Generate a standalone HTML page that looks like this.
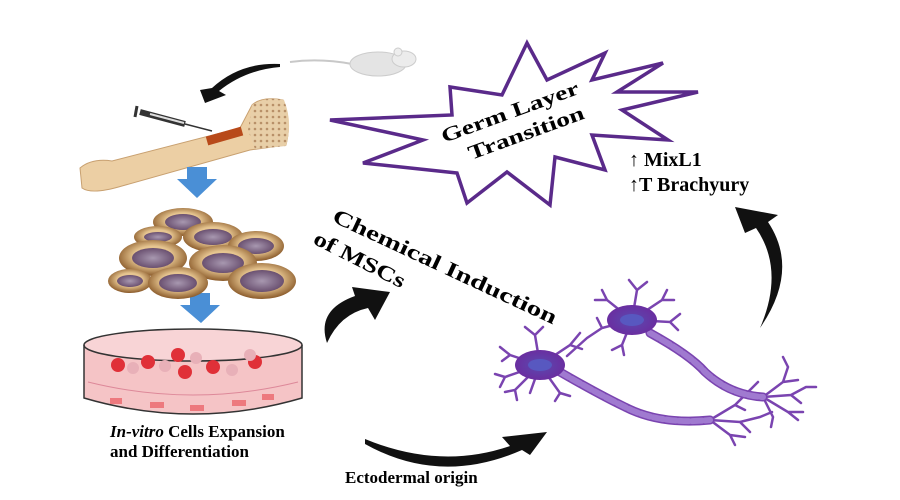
<!DOCTYPE html>
<html><head><style>body{margin:0;background:#fff}svg{display:block}</style></head>
<body>
<svg width="900" height="500" viewBox="0 0 900 500" xmlns="http://www.w3.org/2000/svg" font-family="Liberation Serif, serif" font-weight="bold">
<defs>
<radialGradient id="cell" cx="50%" cy="45%" r="55%"><stop offset="0.5" stop-color="#e6c590"/><stop offset="1" stop-color="#8a5a2a"/></radialGradient>
<radialGradient id="nuc" cx="50%" cy="50%" r="50%"><stop offset="0" stop-color="#a898b0"/><stop offset="1" stop-color="#6a5070"/></radialGradient>
<radialGradient id="soma" cx="50%" cy="50%" r="50%"><stop offset="0" stop-color="#5a4ab0"/><stop offset="1" stop-color="#6a2ea0"/></radialGradient>
<pattern id="spong" width="6" height="6" patternUnits="userSpaceOnUse"><rect width="6" height="6" fill="#e8cfa8"/><circle cx="3" cy="3" r="1.3" fill="#b89068"/></pattern>
</defs>
<!-- mouse -->
<path d="M290,62 Q320,58 352,64" stroke="#c8c8c8" stroke-width="2" fill="none"/>
<ellipse cx="378" cy="64" rx="28" ry="12" fill="#e4e4e4" stroke="#ccc"/>
<ellipse cx="404" cy="59" rx="12" ry="8" fill="#ececec" stroke="#ccc"/>
<circle cx="398" cy="52" r="4" fill="#eee" stroke="#ccc"/>
<!-- arrow mouse to bone -->
<path d="M280,64 Q240,62 212,88 L200,90 L205,103 L226,95 L219,91 Q245,70 280,67 Z" fill="#111"/>
<!-- syringe -->
<line x1="140" y1="112" x2="185" y2="124" stroke="#333" stroke-width="6"/>
<line x1="150" y1="114" x2="184" y2="123" stroke="#ddd" stroke-width="2"/>
<line x1="185" y1="124" x2="212" y2="131" stroke="#333" stroke-width="1.5"/>
<line x1="137" y1="106" x2="135" y2="117" stroke="#333" stroke-width="3"/>
<!-- bone -->
<path d="M80,168 Q92,158 112,161 L240,128 L252,105 Q262,96 283,100 Q292,122 286,145 L250,150 L122,186 Q92,195 82,188 Z" fill="#eccfa4" stroke="#c8a070"/>
<path d="M252,105 Q265,96 284,100 Q293,122 286,146 L255,149 L248,130 Z" fill="url(#spong)"/>
<path d="M207,141 L242,131" stroke="#b84a1a" stroke-width="9"/>
<!-- blue arrows -->
<path d="M187,167 h20 v12 h10 l-20,19 l-20,-19 h10 z" fill="#4a8fd6"/>
<path d="M190,293 h20 v12 h10 l-19,18 l-21,-18 h10 z" fill="#4a8fd6"/>
<!-- cells -->
<g>
<ellipse cx="183" cy="222" rx="30" ry="14" fill="url(#cell)"/><ellipse cx="183" cy="222" rx="18" ry="8" fill="url(#nuc)"/>
<ellipse cx="158" cy="237" rx="24" ry="11" fill="url(#cell)"/><ellipse cx="158" cy="237" rx="14" ry="5" fill="url(#nuc)"/>
<ellipse cx="213" cy="237" rx="30" ry="15" fill="url(#cell)"/><ellipse cx="213" cy="237" rx="19" ry="8" fill="url(#nuc)"/>
<ellipse cx="256" cy="246" rx="28" ry="15" fill="url(#cell)"/><ellipse cx="256" cy="246" rx="18" ry="8" fill="url(#nuc)"/>
<ellipse cx="153" cy="258" rx="34" ry="18" fill="url(#cell)"/><ellipse cx="153" cy="258" rx="21" ry="10" fill="url(#nuc)"/>
<ellipse cx="223" cy="263" rx="34" ry="18" fill="url(#cell)"/><ellipse cx="223" cy="263" rx="21" ry="10" fill="url(#nuc)"/>
<ellipse cx="130" cy="281" rx="22" ry="12" fill="url(#cell)"/><ellipse cx="130" cy="281" rx="13" ry="6" fill="url(#nuc)"/>
<ellipse cx="178" cy="283" rx="30" ry="16" fill="url(#cell)"/><ellipse cx="178" cy="283" rx="19" ry="9" fill="url(#nuc)"/>
<ellipse cx="262" cy="281" rx="34" ry="18" fill="url(#cell)"/><ellipse cx="262" cy="281" rx="22" ry="11" fill="url(#nuc)"/>
</g>
<!-- petri dish -->
<path d="M84,345 L84,398 Q193,430 302,398 L302,345" fill="#f5c4c6" stroke="#333" stroke-width="1.5"/>
<ellipse cx="193" cy="345" rx="109" ry="16" fill="#f8d4d6" stroke="#333" stroke-width="1.5"/>
<path d="M88,382 Q193,408 298,382" stroke="#d89" fill="none"/>
<g fill="#e03038"><circle cx="118" cy="365" r="7"/><circle cx="148" cy="362" r="7"/><circle cx="178" cy="355" r="7"/><circle cx="185" cy="372" r="7"/><circle cx="213" cy="367" r="7"/><circle cx="255" cy="362" r="7"/></g>
<g fill="#e8b0b8"><circle cx="133" cy="368" r="6"/><circle cx="165" cy="366" r="6"/><circle cx="196" cy="358" r="6"/><circle cx="232" cy="370" r="6"/><circle cx="250" cy="355" r="6"/></g>
<g fill="#ea5a60" opacity="0.7"><rect x="110" y="398" width="12" height="6"/><rect x="150" y="402" width="14" height="6"/><rect x="190" y="405" width="14" height="6"/><rect x="232" y="400" width="14" height="6"/><rect x="262" y="394" width="12" height="6"/></g>
<text x="110" y="437" font-size="17"><tspan font-style="italic">In-vitro</tspan> Cells Expansion</text>
<text x="110" y="457" font-size="17">and Differentiation</text>
<!-- bottom arrow -->
<path d="M365,439 Q440,470 510,446 L502,437 L547,432 L530,455 L522,450 Q440,486 365,444 Z" fill="#111"/>
<text x="345" y="483" font-size="17">Ectodermal origin</text>
<!-- center arrow -->
<path d="M327,343 Q316,310 355,296 L352,287 L390,292 L375,320 L368,308 Q340,314 327,343 Z" fill="#111"/>
<text font-size="21" transform="translate(331,221) rotate(25)" textLength="245" lengthAdjust="spacingAndGlyphs">Chemical Induction</text>
<text font-size="21" transform="translate(312,243) rotate(27)" textLength="100" lengthAdjust="spacingAndGlyphs">of MSCs</text>
<!-- star -->
<polygon points="330,120 452,115 450,87 502,95 527,43 547,80 605,53 592,80 663,63 617,92 698,92 622,110 668,140 592,135 605,170 555,157 550,205 507,172 467,203 457,173 363,163 423,140" fill="#fff" stroke="#5a2a8a" stroke-width="3.5" stroke-linejoin="miter"/>
<text font-size="20" transform="translate(444,143) rotate(-20)" textLength="145" lengthAdjust="spacingAndGlyphs">Germ Layer</text>
<text font-size="20" transform="translate(471,160) rotate(-20)" textLength="122" lengthAdjust="spacingAndGlyphs">Transition</text>
<text x="629" y="166" font-size="20">↑ MixL1</text>
<text x="629" y="191" font-size="20">↑T Brachyury</text>
<!-- right arrow -->
<path d="M760,328 Q785,270 756,228 L745,233 L735,207 L778,215 L768,222 Q800,270 760,328 Z" fill="#111"/>
<!-- neuron -->
<g stroke="#7a44b0" fill="none" stroke-width="2.5" stroke-linecap="round">
<path d="M540,365 l-30,-10 l-10,-8 M510,355 l-8,6 M540,365 l-35,12 l-10,-3 M505,377 l-5,10 M540,365 l-25,25 l-10,2 M515,390 l2,10 M540,365 l-5,-30 l-10,-8 M535,335 l8,-8 M540,365 l20,28 l-5,8 M560,393 l10,3 M540,365 l30,-20 l10,-12 M570,345 l12,4 M540,365 l-10,28"/>
<path d="M632,320 l-25,-20 l-5,-10 M607,300 l-12,0 M632,320 l5,-30 l-8,-10 M637,290 l10,-8 M632,320 l30,-20 l5,-10 M662,300 l12,0 M632,320 l38,2 l10,-8 M670,322 l8,8 M632,320 l-30,8 l-15,10 M602,328 l-5,-10 M632,320 l-10,25 l-10,5 M622,345 l2,10 M587,338 l-20,18"/>
<path d="M710,420 l25,-15 l15,-15 M735,405 l10,5 M710,420 l30,2 l20,-5 M740,422 l10,10 M710,420 l20,15 l5,10 M730,435 l15,2 M750,390 l8,-8 M760,417 l12,-5"/>
<path d="M763,397 l20,-15 l5,-15 M783,382 l15,-2 M763,397 l28,-2 l15,-8 M791,395 l10,8 M763,397 l25,15 l10,8 M788,412 l15,0 M763,397 l10,20 l-2,10 M788,367 l-5,-10 M806,387 l10,0"/>
</g>
<g fill="none" stroke-linecap="round">
<path d="M560,372 Q600,395 625,407 Q660,425 710,420" stroke="#7a44b0" stroke-width="9"/>
<path d="M560,372 Q600,395 625,407 Q660,425 710,420" stroke="#a07ad0" stroke-width="6" stroke-dasharray="10,3"/>
<path d="M650,333 Q690,355 705,372 Q730,395 763,397" stroke="#7a44b0" stroke-width="9"/>
<path d="M650,333 Q690,355 705,372 Q730,395 763,397" stroke="#a07ad0" stroke-width="6" stroke-dasharray="10,3"/>
</g>
<ellipse cx="540" cy="365" rx="25" ry="15" fill="url(#soma)"/>
<ellipse cx="632" cy="320" rx="25" ry="15" fill="url(#soma)"/>
<ellipse cx="540" cy="365" rx="12" ry="6" fill="#5858c0"/><ellipse cx="632" cy="320" rx="12" ry="6" fill="#5858c0"/>
</svg>
</body></html>
